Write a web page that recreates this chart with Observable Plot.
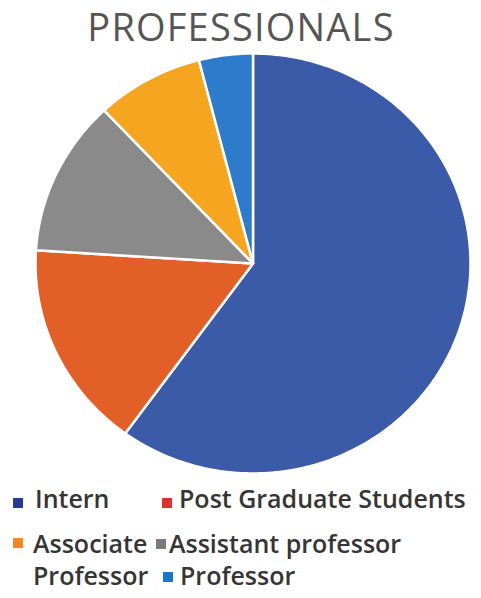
<!DOCTYPE html>
<html>
<head>
<meta charset="utf-8">
<script src="https://cdn.jsdelivr.net/npm/d3@7"></script>
<script src="https://cdn.jsdelivr.net/npm/@observablehq/plot@0.6"></script>
<style>
  html, body { margin: 0; padding: 0; background: #fff; }
  #wrap { position: relative; width: 481px; height: 598px; overflow: hidden; font-family: "Open Sans", sans-serif; }
  #title { position: absolute; left: 241px; top: 7px; transform: translateX(-50%); white-space: nowrap; font-size: 38px; letter-spacing: 1.2px; color: #555555; line-height: 38px; }
  #chart { position: absolute; left: 0; top: 48px; }
  .lg { position: absolute; font-size: 25px; font-weight: 600; color: #353535; line-height: 26px; white-space: nowrap; }
  .sq { position: absolute; width: 10px; height: 10px; }
</style>
</head>
<body>
<div id="wrap">
  <div id="title">PROFESSIONALS</div>
  <div id="chart"></div>
  <div id="legend"></div>
</div>
<script>
const categories = ["Intern", "Post Graduate Students", "Assistant professor", "Associate Professor", "Professor"];
const values = [60, 16, 12, 8, 4];
const sliceColors = ["#3b5aa8", "#e35f28", "#8a8a8a", "#f5a51f", "#2e7bcb"];
const legendLabels = ["Intern", "Post Graduate Students", "Associate\nProfessor", "Assistant professor", "Professor"];
const legendCats = ["Intern", "Post Graduate Students", "Associate Professor", "Assistant professor", "Professor"];
const legendColors = ["#28399a", "#e0302c", "#f7861f", "#7a7a7a", "#1c75c9"];

// build slice polygons (clockwise from 12 o'clock)
const total = d3.sum(values);
const rows = [];
let acc = 0;
categories.forEach((c, i) => {
  const a0 = acc / total * 2 * Math.PI;
  acc += values[i];
  const a1 = acc / total * 2 * Math.PI;
  rows.push({cat: c, x: 0, y: 0});
  const n = Math.max(2, Math.ceil((a1 - a0) / (Math.PI / 180)));
  for (let k = 0; k <= n; k++) {
    const a = a0 + (a1 - a0) * k / n;
    rows.push({cat: c, x: Math.sin(a), y: Math.cos(a)});
  }
});

const plot = Plot.plot({
  width: 481,
  height: 432,
  marginLeft: 35,
  marginRight: 11,
  marginTop: 5,
  marginBottom: 7,
  x: {domain: [-1, 1], axis: null},
  y: {domain: [-1, 1], axis: null},
  color: {domain: categories, range: sliceColors},
  marks: [
    Plot.line(rows, {x: "x", y: "y", z: "cat", fill: "cat", stroke: "white", strokeWidth: 2.5, curve: "linear-closed", strokeLinejoin: "round"})
  ]
});
document.getElementById("chart").appendChild(plot);

// legend
const pos = [
  {sx: 13, sy: 498, tx: 35, ty: 485},
  {sx: 162, sy: 498, tx: 179, ty: 485},
  {sx: 13, sy: 538, tx: 33, ty: 530},
  {sx: 156, sy: 539, tx: 169, ty: 530},
  {sx: 163, sy: 572, tx: 180, ty: 562}
];
const lg = document.getElementById("legend");
const lcolor = Plot.scale({color: {domain: legendCats, range: legendColors}});
legendLabels.forEach((t, i) => {
  const p = pos[i];
  const s = document.createElement("div");
  s.className = "sq";
  s.style.left = p.sx + "px"; s.style.top = p.sy + "px";
  s.style.background = lcolor.apply(legendCats[i]);
  lg.appendChild(s);
  t.split("\n").forEach((line, j) => {
    const d = document.createElement("div");
    d.className = "lg";
    d.style.left = p.tx + "px"; d.style.top = (p.ty + j * 32) + "px";
    d.textContent = line;
    lg.appendChild(d);
  });
});
</script>
</body>
</html>
